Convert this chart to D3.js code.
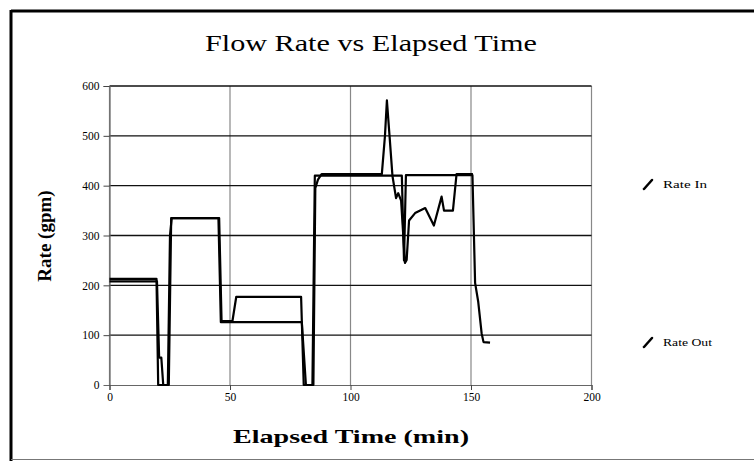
<!DOCTYPE html>
<html>
<head>
<meta charset="utf-8">
<script src="https://cdn.jsdelivr.net/npm/d3@7"></script>
<style>
  body { margin: 0; background: #fff; }
  svg { display: block; }
  text { font-family: "Liberation Serif", "Times New Roman", serif; fill: #000; }
</style>
</head>
<body>
<div id="chart"></div>
<script>
// elapsed time (min) / rate (gpm)
var rateInTime = [0, 19.5, 20.2, 24.6, 25.6, 45.5, 46.5, 51, 52.6, 79.5, 80.6, 84.2, 85.2, 121.3, 122.2, 123, 150.6, 151.7, 153, 154.4, 155.2, 157.9];
var rateInVal  = [213, 213, 0, 0, 335, 335, 128, 128, 177, 177, 0, 0, 420, 420, 250, 421, 421, 205, 167, 104, 86, 85];

var rateOutTime = [0, 19.7, 20.6, 21.5, 22.3, 24.2, 25.1, 25.8, 45.2, 46.2, 79.8, 81.5, 84.6, 85.4, 86.5, 88, 113, 114.3, 115.1, 116.2, 117.4, 118.9, 119.8, 121, 122.6, 123.3, 124.3, 126.8, 131, 134.6, 137.8, 138.8, 142.5, 144, 150.8];
var rateOutVal  = [208, 208, 55, 55, 0, 0, 300, 335, 335, 126, 126, 0, 0, 395, 412, 423, 423, 500, 571, 500, 420, 375, 385, 370, 245, 251, 330, 345, 355, 320, 378, 350, 350, 423, 423];

var seriesNames = ["Rate In", "Rate Out"];
var xTicks = [0, 50, 100, 150, 200];
var yTicks = [0, 100, 200, 300, 400, 500, 600];

var W = 754, H = 461;
var plot = { left: 109.5, right: 591.5, top: 86, bottom: 385 };

var svg = d3.select("#chart").append("svg")
  .attr("width", W)
  .attr("height", H);

// outer frame
svg.append("line").attr("x1", 11).attr("x2", W).attr("y1", 11).attr("y2", 11)
  .style("stroke", "#000").style("stroke-width", 3);
svg.append("line").attr("x1", 11).attr("x2", 11).attr("y1", 10).attr("y2", H)
  .style("stroke", "#000").style("stroke-width", 3);
svg.append("line").attr("x1", 11).attr("x2", W).attr("y1", 459.5).attr("y2", 459.5)
  .style("stroke", "#777").style("stroke-width", 1);

var x = d3.scaleLinear().domain([0, 200]).range([plot.left, plot.right]);
var y = d3.scaleLinear().domain([0, 600]).range([plot.bottom, plot.top]);

// vertical grid (grey)
svg.append("g")
  .selectAll("line")
  .data(xTicks)
  .enter().append("line")
  .attr("x1", function(d) { return x(d); })
  .attr("x2", function(d) { return x(d); })
  .attr("y1", plot.top)
  .attr("y2", plot.bottom)
  .style("stroke", "#888")
  .style("stroke-width", 1.2);

// horizontal grid (black)
svg.append("g")
  .selectAll("line")
  .data(yTicks.slice(1))
  .enter().append("line")
  .attr("x1", plot.left)
  .attr("x2", plot.right)
  .attr("y1", function(d) { return y(d); })
  .attr("y2", function(d) { return y(d); })
  .style("stroke", "#111")
  .style("stroke-width", 1.4);

// axes
var yAxis = svg.append("g")
  .attr("transform", "translate(" + plot.left + ",0)")
  .call(d3.axisLeft(y).tickValues(yTicks).tickSize(6).tickPadding(4));
var xAxis = svg.append("g")
  .attr("transform", "translate(0," + plot.bottom + ")")
  .call(d3.axisBottom(x).tickValues(xTicks).tickSize(5).tickPadding(3));

[xAxis, yAxis].forEach(function(a) {
  a.select(".domain").style("stroke", "#666").style("stroke-width", 1.2);
  a.selectAll("line").style("stroke", "#444");
  a.selectAll("text")
    .style("font-family", "'Liberation Serif', serif")
    .style("font-size", "11.5px")
    .style("fill", "#000");
});
yAxis.selectAll(".tick").filter(function(d) { return d === 0; }).select("line").remove();

// series
var line = d3.line()
  .x(function(d) { return x(d[0]); })
  .y(function(d) { return y(d[1]); });

var inPts = rateInTime.map(function(t, i) { return [t, rateInVal[i]]; });
var outPts = rateOutTime.map(function(t, i) { return [t, rateOutVal[i]]; });

svg.append("path").datum(inPts)
  .attr("d", line)
  .style("fill", "none").style("stroke", "#000").style("stroke-width", 2.2)
  .style("stroke-linejoin", "round");
svg.append("path").datum(outPts)
  .attr("d", line)
  .style("fill", "none").style("stroke", "#000").style("stroke-width", 2.2)
  .style("stroke-linejoin", "round");

// title + axis titles (the scan is wide, so stretch horizontal text)
svg.append("text")
  .attr("x", 205).attr("y", 51)
  .attr("textLength", 332).attr("lengthAdjust", "spacingAndGlyphs")
  .style("font-size", "24px")
  .text("Flow Rate vs Elapsed Time");

svg.append("text")
  .attr("x", 233).attr("y", 443)
  .attr("textLength", 236).attr("lengthAdjust", "spacingAndGlyphs")
  .style("font-size", "19px")
  .style("font-weight", "bold")
  .text("Elapsed Time (min)");

svg.append("text")
  .attr("transform", "translate(51,236) rotate(-90)")
  .attr("text-anchor", "middle")
  .style("font-size", "19px")
  .style("font-weight", "bold")
  .text("Rate (gpm)");

// legend
var legendY = [184, 342];
var legendW = [44, 49];
var legend = svg.append("g").selectAll("g")
  .data(seriesNames)
  .enter().append("g")
  .attr("transform", function(d, i) { return "translate(643," + legendY[i] + ")"; });
legend.append("line")
  .attr("x1", 1).attr("y1", 5).attr("x2", 9).attr("y2", -4)
  .style("stroke", "#000").style("stroke-width", 2.5).style("stroke-linecap", "round");
legend.append("text")
  .attr("x", 20).attr("y", 4)
  .attr("textLength", function(d, i) { return legendW[i]; })
  .attr("lengthAdjust", "spacingAndGlyphs")
  .style("font-size", "11px")
  .text(function(d) { return d; });
</script>
</body>
</html>
